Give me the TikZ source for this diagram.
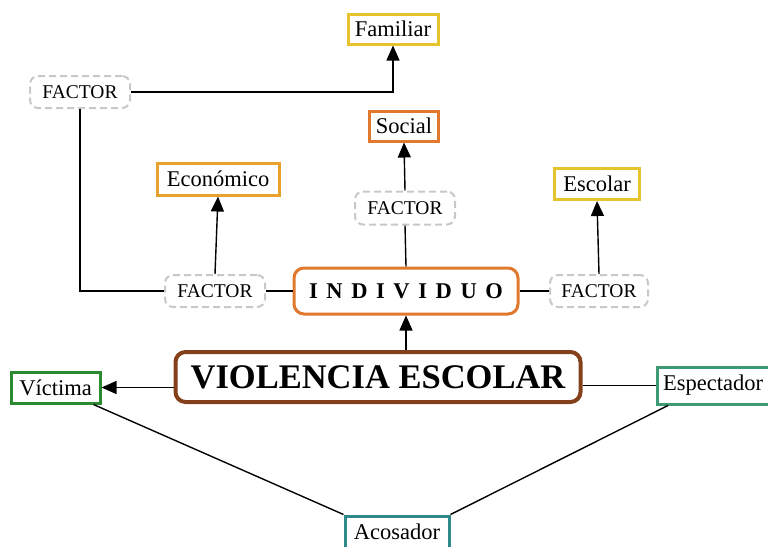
\documentclass[tikz,border=0pt]{standalone}
\usepackage{fontspec}
\setmainfont{Liberation Serif}
\usetikzlibrary{arrows.meta}
\definecolor{cyellow}{HTML}{E8C42C}
\definecolor{corange}{HTML}{E0782E}
\definecolor{cecon}{HTML}{E8A02E}
\definecolor{cbrown}{HTML}{84401A}
\definecolor{cgreen}{HTML}{2E8A30}
\definecolor{cesp}{HTML}{3E9A72}
\definecolor{cteal}{HTML}{2E8A8A}
\definecolor{cgray}{HTML}{C8C8C8}
\tikzset{
  box/.style={draw, line width=3pt, fill=white, inner sep=0pt, font=\fontsize{22.5}{26}\selectfont},
  factor/.style={draw=cgray, line width=2pt, dash pattern=on 7pt off 4pt, rounded corners=8pt, fill=white, inner sep=0pt, minimum width=100pt, minimum height=32pt, font=\fontsize{19.5}{23}\selectfont},
  conn/.style={line width=1.4pt, black},
  arr/.style={conn, -{Triangle[length=15pt,width=13pt]}}
}
\begin{document}
\begin{tikzpicture}[x=1pt,y=-1pt]
\useasboundingbox (0,0) rectangle (768,546);
% nodes
\node[box, draw=cyellow, minimum width=90pt, minimum height=30pt] (fam) at (393,29) {Familiar};
\node[factor] (f1) at (80,92) {FACTOR};
\node[box, draw=corange, minimum width=69pt, minimum height=30pt] (soc) at (404,126) {Social};
\node[factor, minimum height=33pt] (f2) at (405,208) {FACTOR};
\node[box, draw=cecon, minimum width=122pt, minimum height=32pt] (eco) at (218,179) {Económico};
\node[box, draw=cyellow, minimum width=85pt, minimum height=31pt] (esc) at (597,184) {Escolar};
\node[factor] (f3) at (215,291) {FACTOR};
\node[box, draw=corange, rounded corners=10pt, minimum width=224pt, minimum height=46pt, font=\bfseries\fontsize{22.5}{26}\selectfont] (ind) at (406,291) {\spaceskip=8.6pt I N D I V I D U O};
\node[factor, minimum width=98pt] (f4) at (599,291) {FACTOR};
\node[box, draw=cbrown, line width=4pt, rounded corners=10pt, minimum width=405pt, minimum height=50pt, font=\bfseries\fontsize{34.5}{40}\selectfont] (vio) at (378,377) {VIOLENCIA ESCOLAR};
\node[box, draw=cgreen, minimum width=89pt, minimum height=31pt] (vic) at (55.5,387.5) {Víctima};
\node[box, draw=cesp, minimum width=112pt, minimum height=37pt] (esp) at (713,385.5) {Espectador};
\node[box, draw=cteal, minimum width=104pt, minimum height=32pt] (aco) at (397,532) {Acosador};
% connectors
\draw[arr] (f1.east) -| (fam.south);
\draw[conn] (f1.south) |- (f3.west);
\draw[arr] (f3.north) -- (eco.south);
\draw[conn] (ind.west) -- (f3.east);
\draw[conn] (ind.east) -- (f4.west);
\draw[arr] (f4.north) -- (esc.south);
\draw[conn] (ind.north) -- (f2.south);
\draw[arr] (f2.north) -- (soc.south);
\draw[arr] (ind.south |- vio.north) -- (ind.south);
\draw[arr] (vio.west |- vic.east) -- (vic.east);
\draw[conn] (vio.east |- esp.west) -- (esp.west);
\draw[conn] ([xshift=-8pt]vic.south east) -- (aco.north west);
\draw[conn] ([xshift=-45pt]esp.south) -- (aco.north east);
\end{tikzpicture}
\end{document}
